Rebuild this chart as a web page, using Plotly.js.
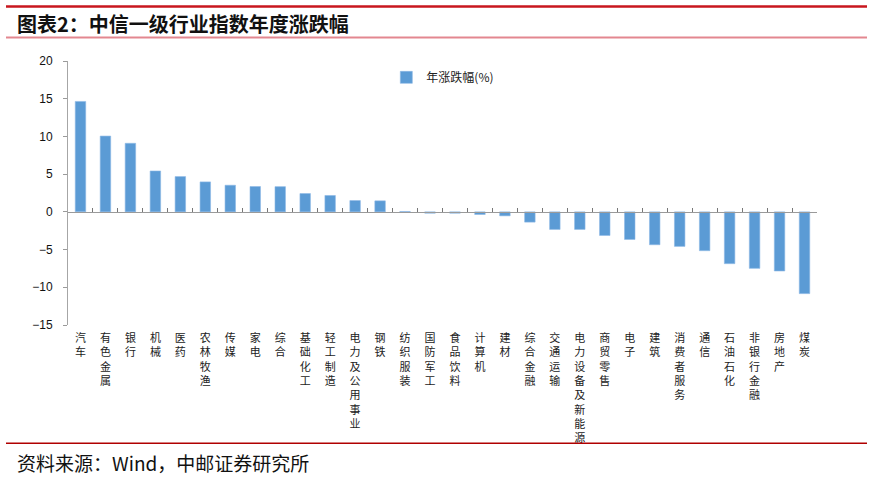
<!DOCTYPE html>
<html>
<head>
<meta charset="utf-8">
<script src="https://cdn.plot.ly/plotly-3.0.1.min.js"></script>
<style>
html,body{margin:0;padding:0;background:#fff;}
#chart{width:873px;height:478px;}
</style>
</head>
<body>
<div id="chart"></div>
<script>
const industries = ["汽车","有色金属","银行","机械","医药","农林牧渔","传媒","家电","综合","基础化工","轻工制造","电力及公用事业","钢铁","纺织服装","国防军工","食品饮料","计算机","建材","综合金融","交通运输","电力设备及新能源","商贸零售","电子","建筑","消费者服务","通信","石油石化","非银行金融","房地产","煤炭"];
const annualChange = [14.64,10.05,9.09,5.42,4.68,3.97,3.53,3.36,3.34,2.43,2.17,1.50,1.46,0.05,-0.18,-0.18,-0.35,-0.53,-1.36,-2.33,-2.33,-3.13,-3.66,-4.36,-4.58,-5.15,-6.87,-7.49,-7.84,-10.84];
const seriesName = "年涨跌幅(%)";
const yTickVals = [-15,-10,-5,0,5,10,15,20];
const titleText = "图表2：中信一级行业指数年度涨跌幅";
const sourceText = "资料来源：Wind，中邮证券研究所";

const verticalLabels = industries.map(s => s.split('').join('<br>'));
const yMin = -15, yMax = 20;

const traces = [
  {
    type: 'bar', x: industries, y: annualChange, name: seriesName,
    marker: {color: '#5B9BD5', line: {color: '#8db9e6', width: 0.6}},
    width: 0.42, hoverinfo: 'x+y', showlegend: true
  },
  {
    type: 'bar', x: industries, y: annualChange, xaxis: 'x2',
    marker: {color: 'rgba(0,0,0,0)'}, width: 0.42,
    showlegend: false, hoverinfo: 'skip'
  }
];

const layout = {
  width: 873, height: 478,
  margin: {l: 68, r: 56, t: 60.5, b: 153, pad: 0},
  paper_bgcolor: '#fff', plot_bgcolor: '#fff',
  font: {family: 'Liberation Sans, Arial, sans-serif', color: '#000'},
  showlegend: true,
  legend: {
    x: 0.425, y: 0.938, xanchor: 'left', yanchor: 'middle',
    orientation: 'h', bgcolor: 'rgba(0,0,0,0)', itemwidth: 30,
    font: {family: 'Noto Sans CJK SC', size: 12, color: '#222'}
  },
  xaxis: {
    type: 'category', range: [-0.5, industries.length - 0.5],
    tickmode: 'array', tickvals: industries, ticktext: verticalLabels,
    ticks: '', showline: false, showgrid: false, zeroline: false,
    tickangle: 0, ticklabelstandoff: 5,
    tickfont: {family: 'Noto Sans CJK SC', size: 11, color: '#222'}
  },
  xaxis2: {
    type: 'category', overlaying: 'x', anchor: 'free', position: (0 - yMin) / (yMax - yMin),
    range: [-0.5, industries.length - 0.5], side: 'bottom',
    tickson: 'boundaries', ticks: 'inside', ticklen: 4, tickwidth: 1, tickcolor: '#777',
    showticklabels: false, showline: true, linecolor: '#9a9a9a', linewidth: 1.5,
    showgrid: false, zeroline: false
  },
  yaxis: {
    range: [yMin, yMax], tickmode: 'array', tickvals: yTickVals,
    ticks: 'outside', ticklen: 4, tickcolor: '#9a9a9a', tickwidth: 1,
    showline: true, linecolor: '#a6a6a6', linewidth: 1,
    showgrid: false, zeroline: false, ticklabelstandoff: 8,
    tickfont: {family: 'Liberation Sans, Arial, sans-serif', size: 12, color: '#111'}
  },
  shapes: [
    {type: 'line', xref: 'paper', yref: 'paper', x0: 0, x1: 1, y0: 1, y1: 1,
     line: {color: '#c8161e', width: 2.5}},
    {type: 'line', xref: 'paper', yref: 'paper', x0: 0, x1: 1, y0: 0, y1: 0,
     line: {color: '#e38790', width: 2}},
    {type: 'line', xref: 'paper', yref: 'paper', x0: 0, x1: 1, y0: 0, y1: 0,
     line: {color: '#b00000', width: 1.5}}
  ],
  annotations: [
    {text: '<b>' + titleText + '</b>', xref: 'paper', yref: 'paper', x: 0, y: 0,
     xanchor: 'left', yanchor: 'middle', showarrow: false,
     font: {family: 'Noto Sans CJK SC', size: 20, color: '#111'}},
    {text: sourceText, xref: 'paper', yref: 'paper', x: 0, y: 0,
     xanchor: 'left', yanchor: 'middle', showarrow: false,
     font: {family: 'Noto Sans CJK SC', size: 19, color: '#111'}}
  ]
};

// convert pixel positions to paper coords for decorations
const plotL = 68, plotW = 873 - 68 - 56, plotT = 60.5, plotH = 478 - 60.5 - 153;
const px = x => (x - plotL) / plotW;
const py = y => (plotT + plotH - y) / plotH;
layout.shapes[0].x0 = px(6); layout.shapes[0].x1 = px(867); layout.shapes[0].y0 = layout.shapes[0].y1 = py(6);
layout.shapes[1].x0 = px(6); layout.shapes[1].x1 = px(867); layout.shapes[1].y0 = layout.shapes[1].y1 = py(37);
layout.shapes[2].x0 = px(6); layout.shapes[2].x1 = px(867); layout.shapes[2].y0 = layout.shapes[2].y1 = py(443.5);
layout.annotations[0].x = px(15); layout.annotations[0].y = py(23);
layout.annotations[1].x = px(15); layout.annotations[1].y = py(463);

Plotly.newPlot('chart', traces, layout, {displayModeBar: false, staticPlot: true});
</script>
</body>
</html>
